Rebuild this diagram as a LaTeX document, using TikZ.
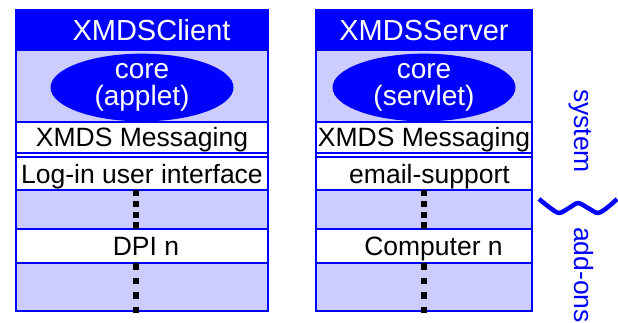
\documentclass[tikz,border=0pt]{standalone}
\usepackage{fontspec}
\setmainfont{Liberation Sans}
\usetikzlibrary{positioning,shapes.geometric}
\definecolor{lav}{RGB}{204,204,255}

\begin{document}
\begin{tikzpicture}[
    x=1pt, y=-1pt,
    node distance=0pt,
    band/.style={
        draw=blue,
        line width=1.8pt,
        rectangle,
        minimum width=#1,
        inner sep=0pt,
        outer sep=0pt,
        text height=19pt,
        text depth=0pt,
        font=\fontsize{26.5}{28}\selectfont
    },
    head/.style={
        band=#1,
        fill=blue,
        text=white,
        minimum height=40pt,
        text height=21pt,
        font=\fontsize{29}{30}\selectfont
    },
    core/.style={
        ellipse,
        fill=blue,
        text=white,
        minimum width=183pt,
        minimum height=61pt,
        inner sep=0pt,
        align=center,
        font=\fontsize{28}{27}\selectfont
    },
    frame/.style={
        draw=blue,
        line width=2pt
    },
    dots/.style={
        line width=5.5pt,
        dash pattern=on 6.5pt off #1
    },
    side/.style={
        text=blue,
        rotate=-90,
        anchor=base,
        inner sep=0pt,
        font=\fontsize{26.5}{28}\selectfont
    },
    wave/.style={
        draw=blue,
        line width=4.5pt,
        line join=round
    }
]
\useasboundingbox (0,0) rectangle (618,323);

% Client column
\node[head=252pt, anchor=north west] (clienthead) at (16,10) {\hspace*{19pt}XMDSClient};
\node[band=252pt, fill=lav, minimum height=72pt, below=of clienthead] (clientcore) {};
\node[band=252pt, fill=white, minimum height=31pt, below=of clientcore] (clientmsg) {XMDS Messaging};
\node[band=252pt, fill=white, minimum height=33pt, below=4pt of clientmsg] (clientlogin) {Log-in user interface};
\node[band=252pt, fill=lav, minimum height=39pt, below=of clientlogin] (clientgapa) {};
\node[band=252pt, fill=white, minimum height=34pt, below=of clientgapa] (clientdpi) {\hspace*{8pt}DPI n};
\node[band=252pt, fill=lav, minimum height=48pt, below=of clientdpi] (clientgapb) {};
\node[core] (clientapp) at ([yshift=-1.5pt]clientcore.center) {core\\(applet)};
\draw[frame] (clienthead.north west) rectangle (clientgapb.south east);

% Server column
\node[head=216pt, anchor=north west] (serverhead) at (316,10) {XMDSServer};
\node[band=216pt, fill=lav, minimum height=72pt, below=of serverhead] (servercore) {};
\node[band=216pt, fill=white, minimum height=31pt, below=of servercore] (servermsg) {XMDS Messaging};
\node[band=216pt, fill=white, minimum height=33pt, below=4pt of servermsg] (servermail) {\hspace*{11pt}email-support};
\node[band=216pt, fill=lav, minimum height=39pt, below=of servermail] (servergapa) {};
\node[band=216pt, fill=white, minimum height=34pt, below=of servergapa] (servercomp) {\hspace*{19pt}Computer n};
\node[band=216pt, fill=lav, minimum height=48pt, below=of servercomp] (servergapb) {};
\node[core] (serverapp) at ([yshift=-1.5pt]servercore.center) {core\\(servlet)};
\draw[frame] (serverhead.north west) rectangle (servergapb.south east);

% Dotted continuations
\coordinate (clientend) at ([xshift=-6pt,yshift=-2pt]clientgapb.south);
\coordinate (serverend) at ([yshift=-2pt]servergapb.south);
\draw[dots=4.3pt] ([xshift=-6pt]clientlogin.south) -- ([xshift=-6pt]clientdpi.north);
\draw[dots=8pt] ([xshift=-6pt]clientdpi.south) -- (clientend);
\draw[dots=4.3pt] (servermail.south) -- (servercomp.north);
\draw[dots=8pt] (servercomp.south) -- (serverend);

% Side annotation
\node[side] (system) at (574,131) {system};
\node[side] (addons) at (574,275) {add-ons};
\draw[wave] plot[smooth] coordinates {(539,199) (549,207) (559,213) (569,208) (578,203) (588,208) (598,213) (608,207) (617,199)};

\end{tikzpicture}
\end{document}
